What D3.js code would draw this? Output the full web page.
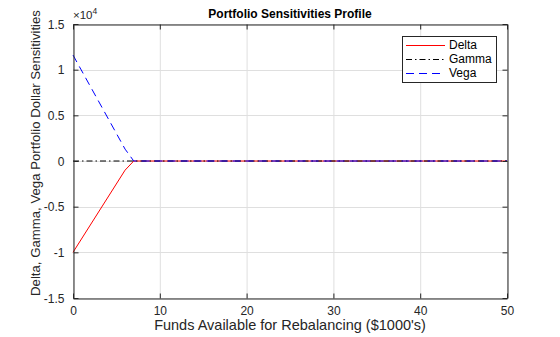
<!DOCTYPE html>
<html><head><meta charset="utf-8">
<script src="https://cdn.jsdelivr.net/npm/d3@7/dist/d3.min.js"></script>
<style>body{margin:0;background:#fff}svg{display:block}text{font-family:Arial,"Liberation Sans",Helvetica,sans-serif}</style>
</head><body><svg id="c" width="560" height="337"></svg>
<script>
const funds = [0, 6, 7, 50];
const delta = [-1.0, -0.1, 0, 0];
const gamma = [0, 0, 0, 0];
const vega = [1.16, 0.13, 0, 0];
const xTicks = [0, 10, 20, 30, 40, 50];
const yTicks = [-1.5, -1, -0.5, 0, 0.5, 1, 1.5];
const seriesNames = ["Delta", "Gamma", "Vega"];
const seriesColors = ["#ff0000", "#000000", "#0000ff"];
const seriesDash = ["none", "6,3,1.5,3", "8,5"];

const svg = d3.select("#c");
const L = 73, R = 507, T = 24, B = 298;
const x = d3.scaleLinear().domain([0, 50]).range([L, R]);
const y = d3.scaleLinear().domain([-1.5, 1.5]).range([B, T]);

svg.append("rect").attr("x", 0).attr("y", 0).attr("width", 560).attr("height", 337).attr("fill", "#fff");
svg.append("rect").attr("x", L).attr("y", T).attr("width", R - L).attr("height", B - T).attr("fill", "#fff");

// grid
const g = svg.append("g");
g.selectAll(".gx").data(xTicks).enter().append("line")
  .attr("x1", d => x(d) + 0.5).attr("x2", d => x(d) + 0.5).attr("y1", T).attr("y2", B)
  .attr("stroke", "#dfdfdf").attr("stroke-width", 1);
g.selectAll(".gy").data(yTicks).enter().append("line")
  .attr("y1", d => Math.round(y(d)) + 0.5).attr("y2", d => Math.round(y(d)) + 0.5).attr("x1", L).attr("x2", R)
  .attr("stroke", "#dfdfdf").attr("stroke-width", 1);

// lines
const all = [delta, gamma, vega];
const line = d3.line().x((d, i) => x(funds[i])).y(d => y(d));
all.forEach((s, k) => {
  svg.append("path").datum(s).attr("d", line).attr("fill", "none")
    .attr("stroke", seriesColors[k]).attr("stroke-width", 1)
    .attr("stroke-dasharray", seriesDash[k]);
});

// axes
const fmtY = d => d === 0 ? "0" : String(d);
const ax = svg.append("g").attr("transform", `translate(0,${B + 0.5})`)
  .call(d3.axisBottom(x).tickValues(xTicks).tickSizeInner(-5).tickSizeOuter(0).tickPadding(8));
const ax2 = svg.append("g").attr("transform", `translate(0,${T + 0.5})`)
  .call(d3.axisTop(x).tickValues(xTicks).tickSizeInner(-5).tickSizeOuter(0).tickFormat(""));
const ay = svg.append("g").attr("transform", `translate(${L + 0.5},0)`)
  .call(d3.axisLeft(y).tickValues(yTicks).tickSizeInner(-5).tickSizeOuter(0).tickPadding(9).tickFormat(fmtY));
const ay2 = svg.append("g").attr("transform", `translate(${R + 0.5},0)`)
  .call(d3.axisRight(y).tickValues(yTicks).tickSizeInner(-5).tickSizeOuter(0).tickFormat(""));
[ax, ax2, ay, ay2].forEach(a => {
  a.select(".domain").attr("stroke", "#262626");
  a.selectAll(".tick line").attr("stroke", "#262626");
  a.selectAll("text").attr("fill", "#262626").style("font-size", "12px").style("font-family", "Arial,'Liberation Sans',sans-serif");
});
ay.selectAll(".tick text").attr("dy", "0.35em");

// exponent
const ex = svg.append("text").attr("x", 73).attr("y", 19).attr("fill", "#262626").style("font-size", "11.5px");
ex.append("tspan").text("×10");
ex.append("tspan").attr("dy", -5).style("font-size", "8.5px").text("4");

// title
svg.append("text").attr("x", 290).attr("y", 18).attr("text-anchor", "middle")
  .style("font-size", "12px").style("font-weight", "bold").attr("fill", "#000")
  .text("Portfolio Sensitivities Profile");

// axis labels
svg.append("text").attr("x", 290).attr("y", 330).attr("text-anchor", "middle")
  .style("font-size", "14.5px").attr("fill", "#262626")
  .text("Funds Available for Rebalancing ($1000's)");
svg.append("text").attr("transform", "translate(40,153) rotate(-90)").attr("text-anchor", "middle")
  .style("font-size", "13.2px").attr("fill", "#262626")
  .text("Delta, Gamma, Vega Portfolio Dollar Sensitivities");

// legend
const lg = svg.append("g");
lg.append("rect").attr("x", 402.5).attr("y", 36.5).attr("width", 94).attr("height", 46)
  .attr("fill", "#fff").attr("stroke", "#262626").attr("stroke-width", 1);
const ly = [45, 59, 73];
seriesNames.forEach((n, k) => {
  lg.append("line").attr("x1", 406).attr("x2", 445).attr("y1", ly[k] + 0.5).attr("y2", ly[k] + 0.5)
    .attr("stroke", seriesColors[k]).attr("stroke-dasharray", seriesDash[k]);
  lg.append("text").attr("x", 449).attr("y", ly[k]).attr("dy", "0.35em")
    .style("font-size", "12px").attr("fill", "#000").text(n);
});
</script></body></html>
